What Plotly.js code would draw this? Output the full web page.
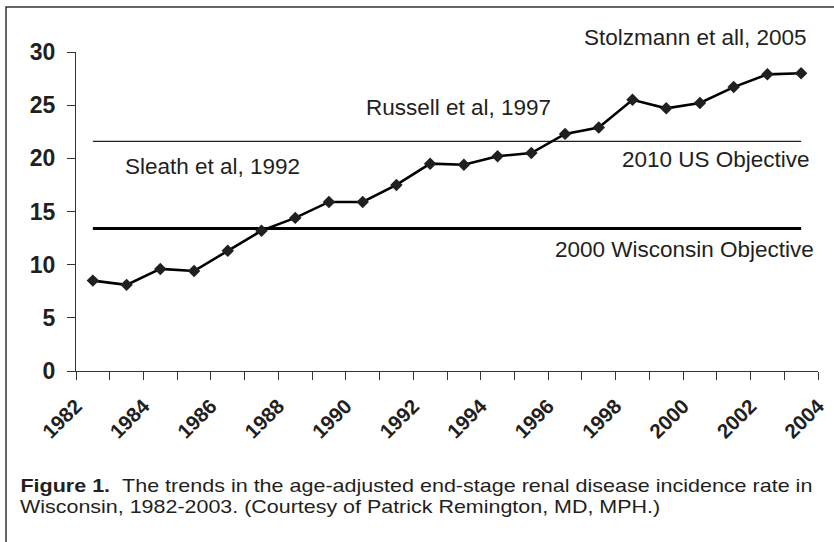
<!DOCTYPE html>
<html>
<head>
<meta charset="utf-8">
<script src="https://cdn.plot.ly/plotly-3.0.1.min.js"></script>
<style>html,body{margin:0;padding:0;background:#fff;}#chart{width:834px;height:542px;}</style>
</head>
<body>
<div id="chart"></div>
<script>
// ---- data ----
const years = [1982,1983,1984,1985,1986,1987,1988,1989,1990,1991,1992,1993,1994,1995,1996,1997,1998,1999,2000,2001,2002,2003];
const incidence = [8.5,8.1,9.6,9.4,11.3,13.2,14.4,15.9,15.9,17.5,19.5,19.4,20.2,20.5,22.3,22.9,25.5,24.7,25.2,26.7,27.9,28.0];
const usObjective2010 = 21.6;
const wiObjective2000 = 13.4;
const xTickLabels = ['1982','1984','1986','1988','1990','1992','1994','1996','1998','2000','2002','2004'];
const yTickLabels = ['0','5','10','15','20','25','30'];
const annotationTexts = ['Sleath et al, 1992','Russell et al, 1997','Stolzmann et all, 2005','2010 US Objective','2000 Wisconsin Objective'];
const captionLine1 = ['Figure 1.', 'The trends in the age-adjusted end-stage renal disease incidence rate in'];
const captionLine2 = 'Wisconsin, 1982-2003. (Courtesy of Patrick Remington, MD, MPH.)';

// ---- layout geometry ----
const W = 834, H = 542;
const M = {l:76, r:16, t:52, b:171};
const PW = W - M.l - M.r, PH = H - M.t - M.b;
const px = v => (v - M.l) / PW;
const py = v => (H - M.b - v) / PH;

const FONT = 'Liberation Sans, Arial, Helvetica, sans-serif';
const INK = '#231f20';

const xMid = years.map(y => y + 0.5);   // each annual value sits in the middle of its year
const xSpan = [xMid[0], xMid[xMid.length - 1]];

const traces = [
  {x: xSpan, y: [usObjective2010, usObjective2010], mode:'lines', line:{color:'#231f20', width:1.3}, hoverinfo:'skip'},
  {x: xSpan, y: [wiObjective2000, wiObjective2000], mode:'lines', line:{color:'#000', width:3}, hoverinfo:'skip'},
  {x: xMid, y: incidence, mode:'lines+markers', line:{color:'#000', width:2.6},
   marker:{symbol:'diamond', size:9.6, color:INK}}
];

const xTickVals = xTickLabels.map(Number);
const yTickVals = yTickLabels.map(Number);

// caption geometry (left edge and target widths, pixels)
const capLeft = 20, cap1Width = 792, cap2Width = 640;

const layout = {
  width: W, height: H, margin: M, showlegend: false,
  paper_bgcolor:'#fff', plot_bgcolor:'#fff',
  font: {family: FONT, color: INK},
  xaxis: {
    range:[xTickVals[0], xTickVals[xTickVals.length-1]],
    tickvals: xTickVals, ticktext: xTickLabels,
    tickangle: -45, ticks:'outside', ticklen:8, tickwidth:1, tickcolor:'#333',
    minor:{dtick:1, ticks:'outside', ticklen:8, tickwidth:1, tickcolor:'#333'},
    showline:true, linecolor:'#333', linewidth:1, showgrid:false, zeroline:false,
    tickfont:{family:FONT, size:20.5, weight:'bold', color:INK},
    ticklabelstandoff: 6, fixedrange:true
  },
  yaxis: {
    range:[yTickVals[0], yTickVals[yTickVals.length-1]],
    tickvals: yTickVals, ticktext: yTickLabels,
    ticks:'outside', ticklen:8, tickwidth:1, tickcolor:'#333',
    showline:true, linecolor:'#333', linewidth:1, showgrid:false, zeroline:false,
    tickfont:{family:FONT, size:23, weight:'bold', color:INK},
    ticklabelstandoff: 7, fixedrange:true
  },
  annotations: [
    {text: annotationTexts[0], x: 1983.4, y: 19.2, xref:'x', yref:'y', xanchor:'left', yanchor:'middle', showarrow:false, font:{size:22.5, color:INK}},
    {text: annotationTexts[1], x: 1990.55, y: 24.8, xref:'x', yref:'y', xanchor:'left', yanchor:'middle', showarrow:false, font:{size:22.5, color:INK}},
    {text: annotationTexts[2], x: px(809), y: py(37), xref:'paper', yref:'paper', xanchor:'right', yanchor:'middle', showarrow:false, font:{size:22.5, color:INK}},
    {text: annotationTexts[3], x: px(812), y: py(159), xref:'paper', yref:'paper', xanchor:'right', yanchor:'middle', showarrow:false, font:{size:22.5, color:INK}},
    {text: annotationTexts[4], x: px(816), y: py(249), xref:'paper', yref:'paper', xanchor:'right', yanchor:'middle', showarrow:false, font:{size:22.5, color:INK}},
    {text: '<b>' + captionLine1[0] + '</b>\u00a0\u00a0' + captionLine1[1], x: px(capLeft + cap1Width/2), y: py(485.5), xref:'paper', yref:'paper', xanchor:'center', yanchor:'middle', showarrow:false, font:{size:18.5, color:INK}},
    {text: captionLine2, x: px(capLeft + cap2Width/2), y: py(506.5), xref:'paper', yref:'paper', xanchor:'center', yanchor:'middle', showarrow:false, font:{size:18.5, color:INK}}
  ],
  shapes: [
    {type:'path', xref:'paper', yref:'paper',
     path: 'M ' + px(6) + ' ' + py(H + 5) + ' L ' + px(6) + ' ' + py(7) + ' L ' + px(W + 5) + ' ' + py(7),
     line:{color:'#333', width:1.5}}
  ]
};

Plotly.newPlot('chart', traces, layout, {displayModeBar:false, staticPlot:true}).then(gd => {
  // the reference caption face is wider than Liberation Sans: stretch the two caption lines to their widths
  const widths = {5: cap1Width, 6: cap2Width};
  Object.keys(widths).forEach(i => {
    const t = gd.querySelector('.annotation[data-index="' + i + '"] text.annotation-text');
    if (t) {
      t.setAttribute('textLength', widths[i]);
      t.setAttribute('lengthAdjust', 'spacingAndGlyphs');
    }
  });
});
</script>
</body>
</html>
